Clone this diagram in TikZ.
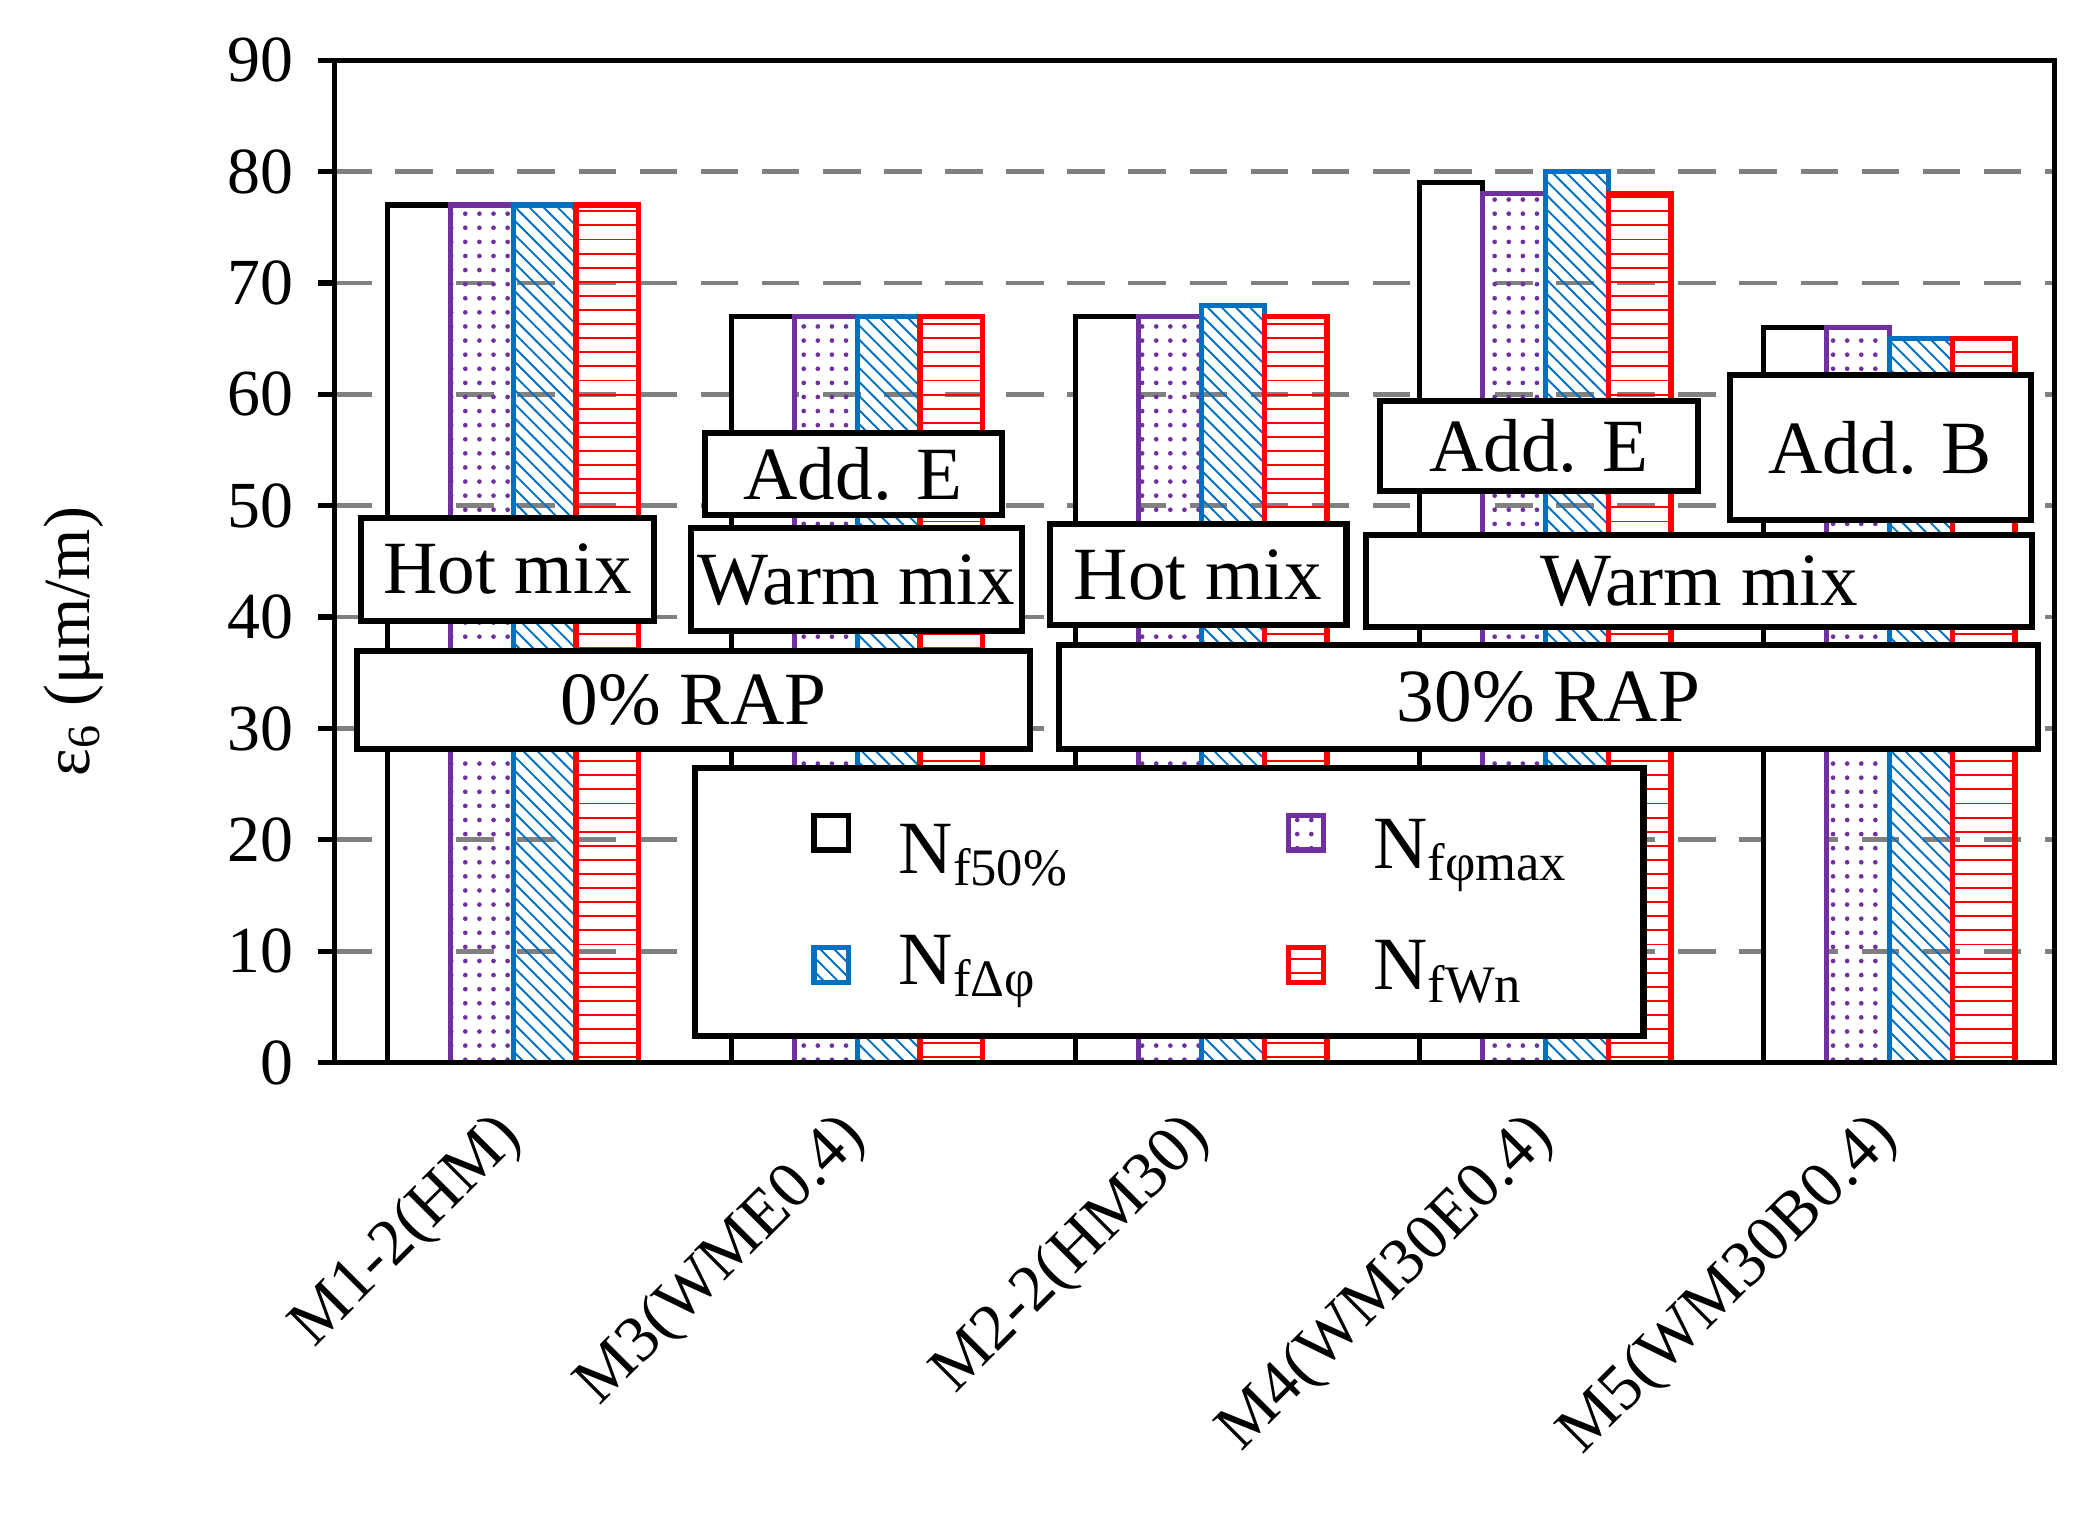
\documentclass[tikz,border=0pt]{standalone}
\usepackage{fontspec}
\setmainfont{Liberation Serif}
\usetikzlibrary{patterns}
\definecolor{barpurple}{RGB}{112,48,160}
\definecolor{barblue}{RGB}{0,112,192}
\definecolor{barred}{RGB}{255,0,0}
\tikzset{
  frame/.style={draw=black,line width=1.1pt},
  grid/.style={draw=gray,dashed,line width=1pt,dash pattern=on 8pt off 5pt},
  lab/.style={draw=black,fill=white,line width=1.3pt,inner sep=0pt,font=\fontsize{16}{19}\selectfont},
  b0/.style={draw=black,fill=white,line width=1.1pt},
  b1/.style={draw=barpurple,pattern=dots,pattern color=barpurple,line width=1.1pt},
  b2/.style={draw=barblue,pattern=north west lines,pattern color=barblue,line width=1.1pt},
  b3/.style={draw=barred,pattern=horizontal lines,pattern color=barred,line width=1.1pt},
}
\begin{document}
\begin{tikzpicture}[x=0.01cm,y=-0.01cm,font=\fontsize{14}{16}\selectfont]
\useasboundingbox (0,0) rectangle (1560,1141);

% grid and ticks
\foreach \v in {10,20,...,80}
  \draw[grid] (250,{795-\v*8.333}) -- (1537,{795-\v*8.333});
\foreach \v in {0,10,...,90}{
  \draw[frame] (238,{795-\v*8.333}) -- (250,{795-\v*8.333});
  \node[anchor=east] (t\v) at (232,{795-\v*8.333}) {\v};
}
\node[rotate=90] (ylab) at (55,480) {ε\textsubscript{6} (μm/m)};

% bars
\foreach \g/\va/\vb/\vc/\vd/\name in {0/77/77/77/77/M1-2(HM),1/67/67/67/67/M3(WME0.4),
    2/67/67/68/67/M2-2(HM30),3/79/78/80/78/M4(WM30E0.4),4/66/66/65/65/M5(WM30B0.4)}{
  \draw[b0] ({290+\g*257.4},795) rectangle ++(47,{-\va*8.333});
  \draw[b1] ({337+\g*257.4},795) rectangle ++(47,{-\vb*8.333});
  \draw[b2] ({384+\g*257.4},795) rectangle ++(47,{-\vc*8.333});
  \draw[b3] ({431+\g*257.4},795) rectangle ++(47,{-\vd*8.333});
  \node[rotate=45,anchor=east] (x\g) at ({392+\g*257.4},835) {\name};
}
\draw[frame] (250,45) rectangle (1537,795);

% group labels
\node[lab,minimum width=2.19cm,minimum height=0.77cm,anchor=north west] (hot1) at (268,385) {Hot mix};
\node[lab,minimum width=2.22cm,minimum height=0.61cm,anchor=north west] (adde1) at (525,322) {Add. E};
\node[lab,minimum width=2.47cm,minimum height=0.77cm,anchor=north west] (warm1) at (515,393) {Warm mix};
\node[lab,minimum width=2.22cm,minimum height=0.75cm,anchor=north west] (hot2) at (783,390) {Hot mix};
\node[lab,minimum width=2.38cm,minimum height=0.67cm,anchor=north west] (adde2) at (1030,298) {Add. E};
\node[lab,minimum width=2.25cm,minimum height=1.09cm,anchor=north west] (addb) at (1292,278) {Add. B};
\node[lab,minimum width=4.98cm,minimum height=0.69cm,anchor=north west] (warm2) at (1020,398) {Warm mix};
\node[lab,minimum width=5.03cm,minimum height=0.73cm,anchor=north west] (rap0) at (265,485) {0\% RAP};
\node[lab,minimum width=7.32cm,minimum height=0.78cm,anchor=north west] (rap30) at (790,480) {30\% RAP};

% legend
\node[lab,minimum width=7.09cm,minimum height=2.01cm,anchor=north west] (legend) at (518,572) {};
\draw[b0] (609,610) rectangle (635,636);
\node[anchor=west,font=\fontsize{16}{19}\selectfont] (l0) at (660,640) {N\textsubscript{f50\%}};
\draw[b1] (964,610) rectangle (990,636);
\node[anchor=west,font=\fontsize{16}{19}\selectfont] (l1) at (1015,640) {N\textsubscript{fφmax}};
\draw[b2] (609,709) rectangle (635,735);
\node[anchor=west,font=\fontsize{16}{19}\selectfont] (l2) at (660,727) {N\textsubscript{fΔφ}};
\draw[b3] (964,709) rectangle (990,735);
\node[anchor=west,font=\fontsize{16}{19}\selectfont] (l3) at (1015,727) {N\textsubscript{fWn}};

\end{tikzpicture}
\end{document}
